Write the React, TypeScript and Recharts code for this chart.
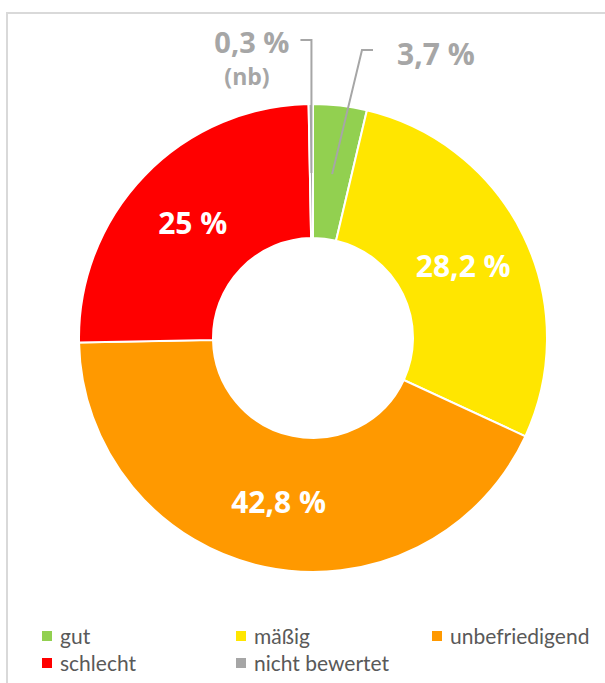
import { PieChart, Pie, Cell, Legend } from 'recharts';

const categories = ['gut', 'mäßig', 'unbefriedigend', 'schlecht', 'nicht bewertet'];
const shares = [3.7, 28.2, 42.8, 25, 0.3];
const valueLabels = ['3,7 %', '28,2 %', '42,8 %', '25 %', '0,3 %'];
const colors = ['#92D050', '#FFE600', '#FF9900', '#FF0000', '#A6A6A6'];

const data = categories.map((name, i) => ({ name, value: shares[i], label: valueLabels[i] }));

const RAD = Math.PI / 180;
const labelGray = '#A6A6A6';
const legendCols = [42, 236, 432];

// callout labels for the two thin slices (placed by hand in the original)
const renderLabel = (props: any) => {
  const { cx, cy, midAngle, innerRadius, outerRadius, index } = props;
  const r = (innerRadius + outerRadius) / 2;
  const ax = cx + (r - 2) * Math.cos(-midAngle * RAD);
  const ay = cy + (r - 2) * Math.sin(-midAngle * RAD);
  const text = data[index].label;

  if (index === 0) {
    const ey = cy - 288;
    return (
      <g>
        <polyline
          points={`${ax},${ay} ${cx + 49},${ey} ${cx + 60},${ey}`}
          fill="none"
          stroke={labelGray}
          strokeWidth={2}
        />
        <text x={cx + 84} y={cy - 285} fill={labelGray} fontSize={30} fontWeight={700} dominantBaseline="central">
          {text}
        </text>
      </g>
    );
  }
  if (index === 4) {
    const ey = cy - 298;
    return (
      <g>
        <polyline
          points={`${ax},${ay} ${ax},${ey} ${ax - 11},${ey}`}
          fill="none"
          stroke={labelGray}
          strokeWidth={2}
        />
        <text x={ax - 22} y={cy - 297} fill={labelGray} fontSize={29} fontWeight={700} textAnchor="end" dominantBaseline="central">
          {text}
        </text>
        <text x={cx - 66} y={cy - 262} fill={labelGray} fontSize={23} fontWeight={700} textAnchor="middle" dominantBaseline="central">
          (nb)
        </text>
      </g>
    );
  }
  const x = cx + r * Math.cos(-midAngle * RAD);
  const y = cy + r * Math.sin(-midAngle * RAD);
  return (
    <text x={x} y={y} fill="#fff" fontSize={30} fontWeight={700} textAnchor="middle" dominantBaseline="central">
      {text}
    </text>
  );
};

const renderLegend = (props: any) => {
  const items = [...(props.payload || [])].sort(
    (a: any, b: any) => categories.indexOf(a.value) - categories.indexOf(b.value)
  );
  return (
    <div style={{ position: 'relative', width: 605, height: 56 }}>
      {items.map((entry: any, i: number) => (
        <div
          key={entry.value}
          style={{
            position: 'absolute',
            left: legendCols[i % 3],
            top: Math.floor(i / 3) * 27,
            height: 27,
            display: 'flex',
            alignItems: 'center',
            fontFamily: 'Lato, sans-serif',
            fontSize: 21,
            color: '#595959',
            whiteSpace: 'nowrap',
          }}
        >
          <span style={{ width: 10, height: 10, background: entry.color, marginRight: 8, display: 'inline-block' }} />
          {entry.value}
        </div>
      ))}
    </div>
  );
};

export default function App() {
  return (
    <div style={{ position: 'absolute', left: 0, top: 0, width: 605, height: 683, overflow: 'hidden', background: '#fff' }}>
      <div
        style={{
          position: 'absolute',
          left: 6,
          top: 12,
          width: 700,
          height: 700,
          borderLeft: '2px solid #D9D9D9',
          borderTop: '2px solid #D9D9D9',
        }}
      />
      <PieChart
        width={605}
        height={683}
        margin={{ top: 0, right: 0, bottom: 0, left: 0 }}
        style={{ fontFamily: '"Open Sans", sans-serif' }}
      >
        <Pie
          data={data}
          dataKey="value"
          nameKey="name"
          cx={313}
          cy={338}
          innerRadius={100}
          outerRadius={234}
          startAngle={90}
          endAngle={-270}
          stroke="#fff"
          strokeWidth={2}
          label={renderLabel}
          labelLine={false}
          isAnimationActive={false}
        >
          {data.map((d, i) => (
            <Cell key={d.name} fill={colors[i]} />
          ))}
        </Pie>
        <Legend content={renderLegend} wrapperStyle={{ left: 0, top: 622, width: 605 }} />
      </PieChart>
    </div>
  );
}
